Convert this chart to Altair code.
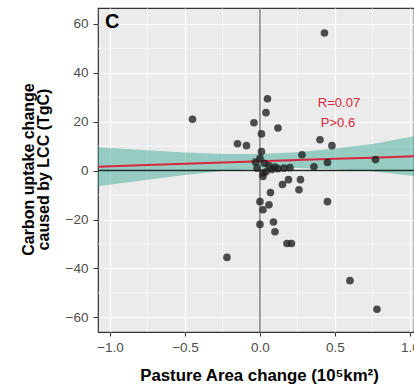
import altair as alt
import pandas as pd

# ---- data ----
pasture_x = [0.43, -0.45, -0.04, 0.05, 0.04, 0.12, 0.01, -0.15, -0.09, 0.40,
             0.48, 0.28, 0.77, 0.45, 0.36, 0.01, 0.00, 0.03, 0.06, -0.02,
             0.08, 0.02, 0.10, -0.03, 0.04, 0.12, 0.16, 0.20, 0.02, 0.19,
             0.15, 0.27, 0.26, 0.07, 0.45, 0.00, 0.06, 0.02, 0.00, 0.09,
             0.10, 0.18, 0.21, -0.22, 0.60, 0.78]
carbon_y = [56.3, 21.0, 19.6, 29.4, 23.7, 17.4, 15.0, 11.0, 10.2, 12.6,
            10.2, 6.5, 4.5, 3.3, 1.6, 7.8, 5.0, 3.0, 2.0, 1.0,
            0.5, -1.0, 1.5, 3.5, -0.5, 0.8, 1.0, 1.2, -2.4, -3.7,
            -5.7, -3.7, -7.8, -9.0, -12.7, -12.7, -14.0, -16.0, -22.0, -21.0,
            -25.0, -29.8, -29.8, -35.5, -45.0, -56.7]

fit_x = [-1.08, -0.75, -0.5, -0.25, 0.0, 0.25, 0.5, 0.75, 1.08]
fit_y = [1.6, 2.3, 2.8, 3.3, 3.8, 4.3, 4.8, 5.3, 6.0]
fit_lo = [-6.4, -3.7, -1.8, -0.2, 0.8, 1.1, 0.6, -0.3, -2.6]
fit_hi = [9.6, 8.3, 7.4, 6.8, 6.8, 7.5, 9.0, 10.9, 14.6]

x_ticks = [-1.0, -0.5, 0.0, 0.5, 1.0]
y_ticks = [-60, -40, -20, 0, 20, 40, 60]
x_minor = [-0.75, -0.25, 0.25, 0.75]
y_minor = [-50, -30, -10, 10, 30, 50]

stat_labels = ["R=0.07", "P>0.6"]
stat_x = [0.527, 0.52]
stat_y = [27.6, 19.6]

FONT = "Liberation Sans"

pts = pd.DataFrame({"x": pasture_x, "y": carbon_y})
fit = pd.DataFrame({"x": fit_x, "y": fit_y, "lo": fit_lo, "hi": fit_hi})
xm = pd.DataFrame({"v": x_minor})
ym = pd.DataFrame({"v": y_minor})
stats = pd.DataFrame({"t": stat_labels, "x": stat_x, "y": stat_y})
panel = pd.DataFrame({"t": ["C"], "x": [-1.033], "y": [60.6]})

xs = alt.Scale(domain=[-1.08, 1.027], nice=False, zero=False)
ys = alt.Scale(domain=[-66, 66.5], nice=False, zero=False)

x_axis = alt.Axis(values=x_ticks, format=".1f", title="Pasture Area change (10⁵km²)",
                  grid=True, gridColor="white", gridWidth=1.2,
                  labelFont=FONT, labelFontSize=13.5, labelColor="#4D4D4D",
                  labelPadding=4, tickColor="#333333", tickSize=4,
                  domain=False, titleFont=FONT, titleFontSize=16.8,
                  titleFontWeight="bold", titleColor="black",
                  titleX=161, titleY=43, titleBaseline="middle")
y_axis = alt.Axis(values=y_ticks, format="d", title=["Carbon uptake change", "caused by LCC (TgC)"],
                  grid=True, gridColor="white", gridWidth=1.2,
                  labelFont=FONT, labelFontSize=13.5, labelColor="#4D4D4D",
                  labelPadding=5, tickColor="#333333", tickSize=5,
                  domain=False, titleFont=FONT, titleFontSize=16,
                  titleFontWeight="bold", titleColor="black", titleLineHeight=15,
                  titleX=-62, titleY=161, titleBaseline="bottom")

minor_x = alt.Chart(xm).mark_rule(color="white", strokeWidth=0.6).encode(
    x=alt.X("v:Q", scale=xs, axis=x_axis))
minor_y = alt.Chart(ym).mark_rule(color="white", strokeWidth=0.6).encode(
    y=alt.Y("v:Q", scale=ys, axis=y_axis))

vline = alt.Chart(pd.DataFrame({"v": [0.0]})).mark_rule(color="#555555", strokeWidth=1.1).encode(
    x=alt.X("v:Q", scale=xs))

band = alt.Chart(fit).mark_area(color="#2CA58D", opacity=0.45, clip=True).encode(
    x=alt.X("x:Q", scale=xs), y=alt.Y("lo:Q", scale=ys), y2="hi:Q")

hline = alt.Chart(pd.DataFrame({"v": [0.0]})).mark_rule(color="#1A2A22", strokeWidth=1.5).encode(
    y=alt.Y("v:Q", scale=ys))

line = alt.Chart(fit).mark_line(color="#D7263D", strokeWidth=2, clip=True).encode(
    x=alt.X("x:Q", scale=xs), y=alt.Y("y:Q", scale=ys))

points = alt.Chart(pts).mark_circle(color="#1E1E1E", opacity=0.78, size=58).encode(
    x=alt.X("x:Q", scale=xs), y=alt.Y("y:Q", scale=ys))

stat_text = alt.Chart(stats).mark_text(color="#D62839", font=FONT, fontSize=13,
                                       align="center", baseline="middle").encode(
    x=alt.X("x:Q", scale=xs), y=alt.Y("y:Q", scale=ys), text="t:N")

panel_text = alt.Chart(panel).mark_text(color="black", font=FONT, fontSize=20, fontWeight="bold",
                                        align="left", baseline="middle").encode(
    x=alt.X("x:Q", scale=xs), y=alt.Y("y:Q", scale=ys), text="t:N")

chart = alt.layer(minor_x, minor_y, vline, band, hline, line, points, stat_text, panel_text).properties(
    width=316, height=324,
    autosize=alt.AutoSizeParams(type="none"),
    padding={"left": 98, "top": 8, "right": 0, "bottom": 53},
    background="white",
).configure_view(fill="#EBEBEB", stroke="#333333", strokeWidth=1.2)

chart.save("out.html", embed_options={"renderer": "svg", "actions": False})
